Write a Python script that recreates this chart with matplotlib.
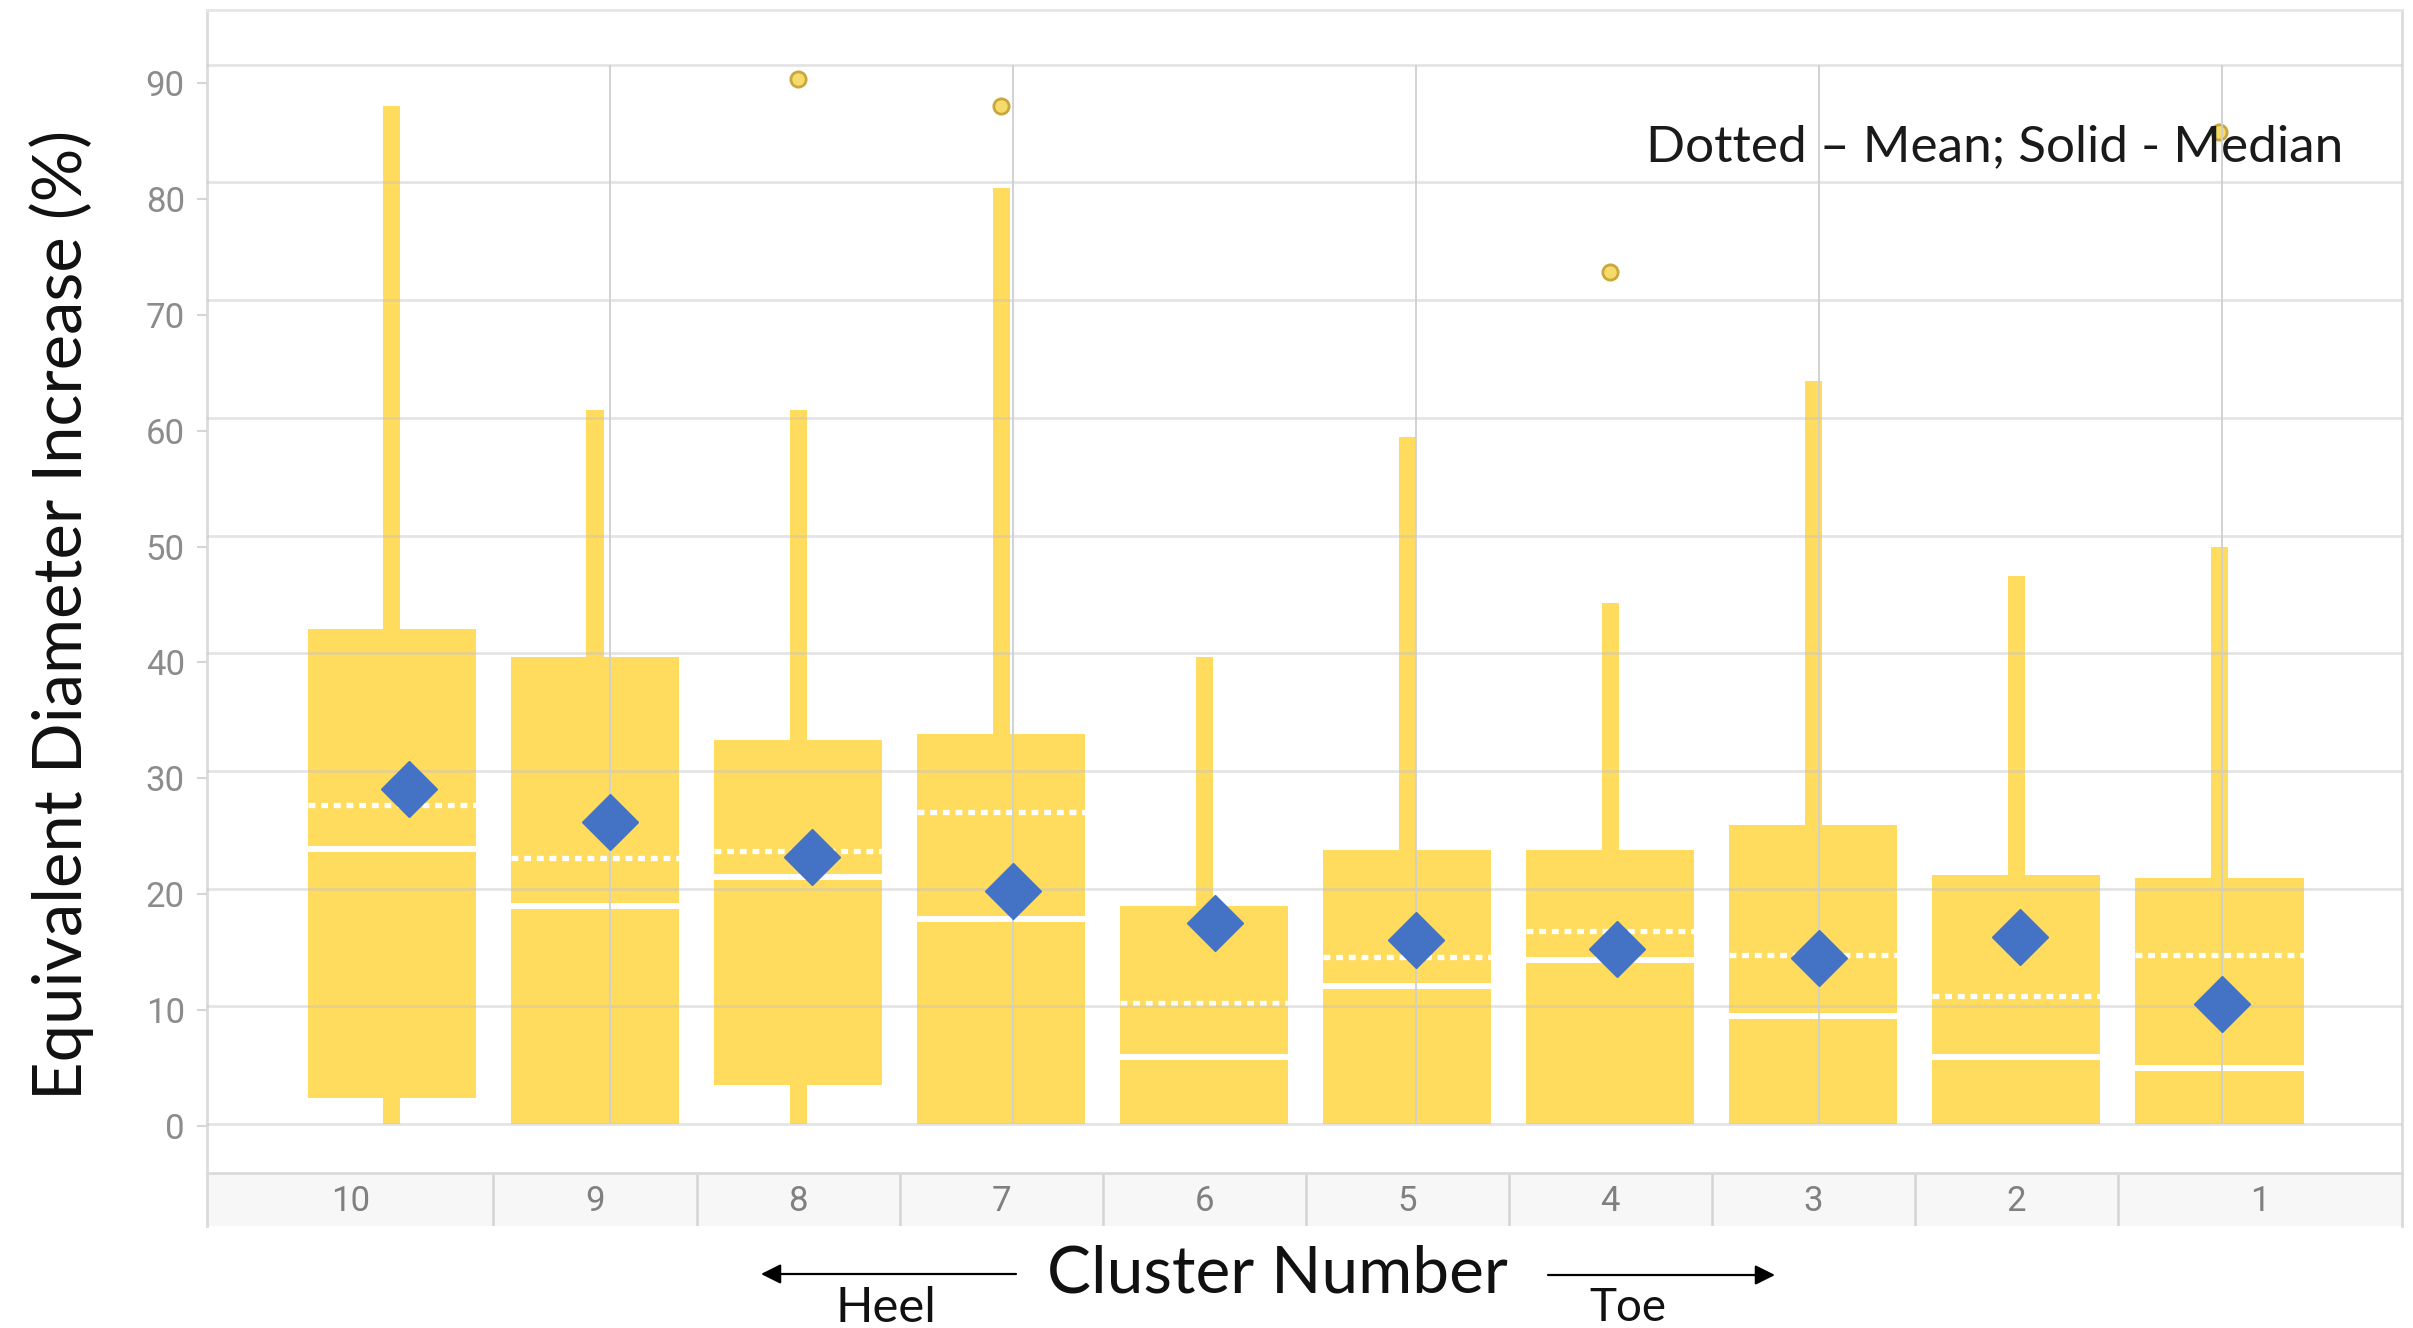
import matplotlib
matplotlib.use("Agg")
import matplotlib.pyplot as plt
import numpy as np

# ---------------- data ----------------
clusters = ['10', '9', '8', '7', '6', '5', '4', '3', '2', '1']
whisker_low = [0, 0, 0, 0, 0, 0, 0, 0, 0, 0]
q1 = [2.2, 0, 3.3, 0, 0, 0, 0, 0, 0, 0]
q3 = [42.1, 39.7, 32.6, 33.1, 18.5, 23.3, 23.3, 25.4, 21.2, 20.9]
whisker_high = [86.5, 60.7, 60.7, 79.5, 39.7, 58.4, 44.3, 63.1, 46.6, 49.0]
mean_line = [27.1, 22.6, 23.2, 26.5, 10.3, 14.2, 16.4, 14.4, 10.9, 14.4]
median_line = [23.4, 18.5, 21.0, 17.4, 5.7, 11.7, 13.9, 9.2, 5.7, 4.8]
diamond_vals = [28.5, 25.7, 22.7, 19.8, 17.1, 15.6, 14.9, 14.1, 15.9, 10.2]
outlier_cluster = ['8', '7', '4', '1']
outlier_vals = [88.8, 86.5, 72.4, 84.3]
yticks = [0, 10, 20, 30, 40, 50, 60, 70, 80, 90]

# ---------------- style ----------------
W, H = 2413, 1328
YELLOW = '#FFDB5E'
BLUE = '#4472C4'
TXT_FONT = ['Lato', 'DejaVu Sans']
TICK_FONT = ['Roboto', 'DejaVu Sans']

fig = plt.figure(figsize=(W / 100, H / 100), dpi=100)

def fx(px):
    return px / W

def fy(py):
    return 1 - py / H

ax_l, ax_r = 207, 2402
ax_t, ax_b = 10, 1173
band_b = 1226
ax = fig.add_axes([fx(ax_l), fy(ax_b), fx(ax_r - ax_l), (ax_b - ax_t) / H])
ax.set_xlim(-0.911, 9.90)
ax.set_ylim(-4.16, 94.65)

x = np.arange(len(clusters))
box_w = 0.83
wh_w = 0.084

ax.bar(x, np.array(whisker_high) - np.array(whisker_low), bottom=whisker_low,
       width=wh_w, color=YELLOW, zorder=1, linewidth=0)
ax.bar(x, np.array(q3) - np.array(q1), bottom=q1, width=box_w,
       color=YELLOW, zorder=1.2, linewidth=0)
ax.hlines(median_line, x - box_w / 2, x + box_w / 2, colors='white',
          linewidth=4.3, zorder=2)
ax.hlines(mean_line, x - box_w / 2, x + box_w / 2, colors='white',
          linewidth=3.8, linestyles=(0, (1.3, 1.1)), zorder=2)

ox = [clusters.index(c) for c in outlier_cluster]
ax.plot(ox, outlier_vals, 'o', ms=11, mfc='#F6DA6A', mec='#C9A73C', mew=2,
        linestyle='none', zorder=3)

ax.set_yticks(yticks)
ax.tick_params(axis='y', length=0, labelleft=False)
ax.tick_params(axis='x', length=0, labelbottom=False)
ax.set_xticks([])
ax.set_axisbelow(False)
ax.yaxis.grid(True, color='#C4C4C4', alpha=0.45, linewidth=2.0)
ax.spines['bottom'].set_visible(False)
ax.spines['left'].set_color('#DCDCDC')
ax.spines['left'].set_linewidth(2)
ax.spines['top'].set_color('#E6E6E6')
ax.spines['top'].set_linewidth(2)
ax.spines['right'].set_color('#DCDCDC')
ax.spines['right'].set_linewidth(2)

# tick-label axis (labels sit slightly off the grid lines, as in the source)
axT = ax.twinx()
axT.set_ylim(-4.06, 96.3)
axT.set_yticks(yticks)
axT.set_yticklabels([str(v) for v in yticks], family=TICK_FONT)
axT.yaxis.tick_left()
axT.tick_params(axis='y', length=7, width=1.5, color='#D6D6D6',
                labelcolor='#8C8C8C', labelsize=25, pad=9)
for s in axT.spines.values():
    s.set_visible(False)

# diamond / vertical-grid axis
axD = ax.twiny()
axD.set_xlim(-1.003, 9.896)
vgrid = [1, 3, 5, 7, 9]
axD.set_xticks([])
axD.tick_params(axis='x', top=False, labeltop=False, bottom=False, labelbottom=False)
axD.vlines(vgrid, yticks[0], yticks[-1], colors='#CFCFCF', linewidth=1.3, zorder=1)
for s in axD.spines.values():
    s.set_visible(False)
axD.plot(x, diamond_vals, 'D', ms=29, color=BLUE, mec=BLUE, linestyle='none',
         zorder=5)

# category band
axB = fig.add_axes([fx(ax_l), fy(band_b), fx(ax_r - ax_l), (band_b - ax_b) / H])
axB.set_xlim(ax.get_xlim())
axB.set_ylim(0, 1)
axB.set_facecolor('#F7F7F7')
axB.set_xticks([])
axB.set_yticks([])
axB.spines['bottom'].set_visible(False)
for s in ['top', 'left', 'right']:
    axB.spines[s].set_color('#DADADA')
    axB.spines[s].set_linewidth(2)
edges = [ax.get_xlim()[0]] + [i + 0.5 for i in range(len(clusters) - 1)] + [ax.get_xlim()[1]]
for e in edges[1:-1]:
    axB.axvline(e, color='#D4D4D4', linewidth=1.8)
for i, lab in enumerate(clusters):
    axB.text((edges[i] + edges[i + 1]) / 2, 0.47, lab, ha='center', va='center',
             fontsize=25, color='#808080', family=TICK_FONT)

# ---------------- texts ----------------
renderer = fig.canvas.get_renderer()

def fit(t, target, vertical=False, it=3):
    for _ in range(it):
        bb = t.get_window_extent(renderer)
        cur = bb.height if vertical else bb.width
        t.set_fontsize(t.get_fontsize() * target / cur)

t = fig.text(fx(62), fy(615), 'Equivalent Diameter Increase (%)', rotation=90,
             ha='center', va='center', fontsize=40, color='#111111', family=TXT_FONT)
fit(t, 969, vertical=True)

t = fig.text(fx(1646), fy(147), 'Dotted \u2013 Mean; Solid - Median', ha='left',
             va='center', fontsize=30, color='#1a1a1a', family=TXT_FONT)
fit(t, 698)

t = fig.text(fx(1277), fy(1274), 'Cluster Number', ha='center', va='center',
             fontsize=40, color='#111111', family=TXT_FONT)
fit(t, 461)

t = fig.text(fx(886), fy(1308), 'Heel', ha='center', va='center',
             fontsize=28, color='#111111', family=TXT_FONT)
fit(t, 101)

t = fig.text(fx(1628), fy(1308), 'Toe', ha='center', va='center',
             fontsize=28, color='#111111', family=TXT_FONT)
fit(t, 77)

arrow_kw = dict(arrowstyle='-|>', color='black', lw=1.6, mutation_scale=30,
                shrinkA=0, shrinkB=0)
fig.add_artist(matplotlib.patches.FancyArrowPatch(
    (fx(1016), fy(1274)), (fx(761), fy(1274)), transform=fig.transFigure, **arrow_kw))
fig.add_artist(matplotlib.patches.FancyArrowPatch(
    (fx(1548), fy(1275)), (fx(1775), fy(1275)), transform=fig.transFigure, **arrow_kw))

fig.savefig('out.png', dpi=100, facecolor='white')
